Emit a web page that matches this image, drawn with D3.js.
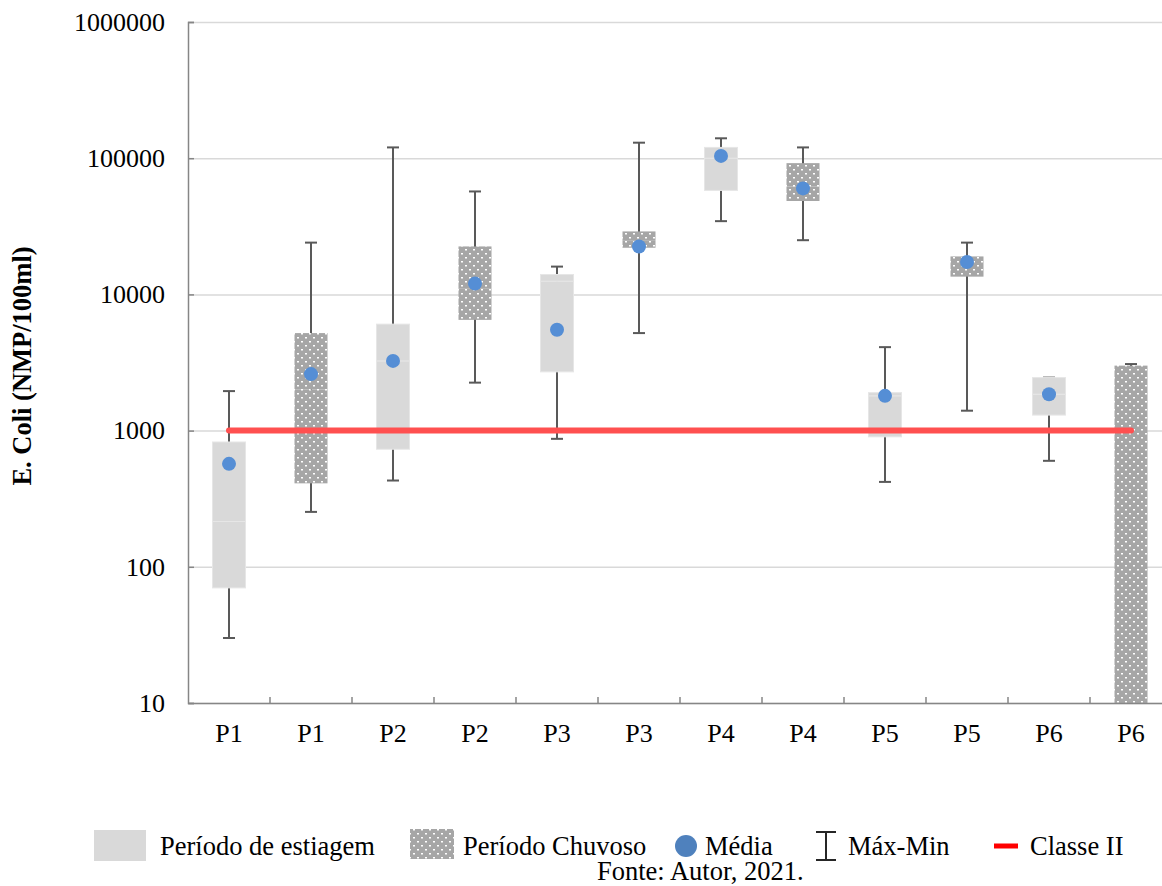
<!DOCTYPE html>
<html>
<head>
<meta charset="utf-8">
<script src="https://cdn.jsdelivr.net/npm/d3@7"></script>
<style>
  html, body { margin: 0; padding: 0; background: #fff; }
  svg { display: block; font-family: "Liberation Serif", "Times New Roman", serif; }
</style>
</head>
<body>
<svg id="chart" width="1162" height="886"></svg>
<script>
// Sampling points and season of each box
const categories = ["P1", "P1", "P2", "P2", "P3", "P3", "P4", "P4", "P5", "P5", "P6", "P6"];
const periods = ["estiagem", "chuvoso", "estiagem", "chuvoso", "estiagem", "chuvoso",
                 "estiagem", "chuvoso", "estiagem", "chuvoso", "estiagem", "chuvoso"];

// E. coli statistics (NMP/100ml) per box
const minValues    = [30,   253,   430,    2250,  870,   5200,   34500,  25000,  420,  1400,  600,  1];
const q1Values     = [70,   410,   730,    6500,  2700,  22000,  58000,  48500,  900,  13500, 1300, 1];
const medianValues = [215,  2000,  3250,   11000, 12500, 25000,  100000, 62000,  1800, 17000, 1850, 1];
const q3Values     = [825,  5200,  6050,   22500, 14000, 29000,  120000, 92000,  1900, 19000, 2450, 3000];
const maxValues    = [1950, 24000, 120000, 57000, 16000, 130000, 140000, 120000, 4100, 24000, 2450, 3080];
const meanValues   = [570,  2600,  3250,   12000, 5500,  22500,  104000, 60000,  1800, 17300, 1850, null];

// Reference limit (CONAMA Classe II)
const classeLimit = 1000;

const yTickValues = [10, 100, 1000, 10000, 100000, 1000000];

const legendLabels = ["Período de estiagem", "Período Chuvoso", "Média", "Máx-Min", "Classe II"];
const sourceText = "Fonte: Autor, 2021.";
const yTitle = "E. Coli (NMP/100ml)";

(function draw() {
  const svg = d3.select("#chart");
  const plotLeft = 188, plotTop = 22, plotBottom = 703;
  const step = 82;
  const plotRight = plotLeft + step * categories.length;
  const boxWidth = 33;
  const tickFont = 26;
  const textFont = 26.5;

  const x = d3.scaleBand().domain(d3.range(categories.length)).range([plotLeft, plotRight]).padding(0);
  const y = d3.scaleLog().domain([10, 1000000]).range([plotBottom, plotTop]);
  const cx = i => x(i) + x.bandwidth() / 2;

  const lightFill = "#d9d9d9";
  const darkFill = "#a6a6a6";
  const meanColor = "#558ed5";
  const whiskerColor = "#595959";

  const defs = svg.append("defs");
  const pat = defs.append("pattern")
    .attr("id", "dots")
    .attr("patternUnits", "userSpaceOnUse")
    .attr("width", 8).attr("height", 8);
  pat.append("rect").attr("width", 8).attr("height", 8).attr("fill", darkFill);
  pat.append("rect").attr("x", 1).attr("y", 1).attr("width", 2).attr("height", 1.5).attr("fill", "#fff");
  pat.append("rect").attr("x", 5).attr("y", 5).attr("width", 2).attr("height", 1.5).attr("fill", "#fff");

  defs.append("clipPath").attr("id", "plotClip")
    .append("rect").attr("x", plotLeft).attr("y", plotTop - 2)
    .attr("width", plotRight - plotLeft).attr("height", plotBottom - plotTop + 2);

  // gridlines
  svg.append("g")
    .attr("transform", `translate(${plotLeft},0)`)
    .call(d3.axisLeft(y).tickValues(yTickValues).tickSize(-(plotRight - plotLeft)).tickFormat(""))
    .call(g => g.select(".domain").remove())
    .call(g => g.selectAll("line").attr("stroke", "#d9d9d9").attr("stroke-width", 1.5));

  const plot = svg.append("g").attr("clip-path", "url(#plotClip)");

  const data = categories.map((c, i) => ({
    i, c, period: periods[i],
    min: minValues[i], q1: q1Values[i], med: medianValues[i], q3: q3Values[i],
    max: maxValues[i], mean: meanValues[i]
  }));

  // whiskers (behind boxes)
  const wh = plot.append("g").attr("stroke", whiskerColor).attr("stroke-width", 2);
  data.forEach(d => {
    wh.append("line").attr("x1", cx(d.i)).attr("x2", cx(d.i)).attr("y1", y(d.max)).attr("y2", y(d.min));
    wh.append("line").attr("x1", cx(d.i) - 6).attr("x2", cx(d.i) + 6).attr("y1", y(d.max)).attr("y2", y(d.max));
    if (d.min >= 10) {
      wh.append("line").attr("x1", cx(d.i) - 6).attr("x2", cx(d.i) + 6).attr("y1", y(d.min)).attr("y2", y(d.min));
    }
  });

  // boxes: lower part q1-median, upper part median-q3
  const boxes = plot.append("g");
  data.forEach(d => {
    const light = d.period === "estiagem";
    const fill = light ? lightFill : "url(#dots)";
    const stroke = light ? "#e6e6e6" : "none";
    const bx = cx(d.i) - boxWidth / 2;
    boxes.append("rect")
      .attr("x", bx).attr("width", boxWidth)
      .attr("y", y(d.med)).attr("height", y(d.q1) - y(d.med))
      .attr("fill", fill).attr("stroke", stroke).attr("stroke-width", 1);
    boxes.append("rect")
      .attr("x", bx).attr("width", boxWidth)
      .attr("y", y(d.q3)).attr("height", y(d.med) - y(d.q3))
      .attr("fill", fill).attr("stroke", stroke).attr("stroke-width", 1);
  });

  // Classe II limit line
  svg.append("line")
    .attr("x1", cx(0)).attr("x2", cx(categories.length - 1))
    .attr("y1", y(classeLimit)).attr("y2", y(classeLimit))
    .attr("stroke", "#ff5050").attr("stroke-width", 6).attr("stroke-linecap", "round");

  // means
  svg.append("g").selectAll("circle")
    .data(data.filter(d => d.mean != null))
    .join("circle")
    .attr("cx", d => cx(d.i)).attr("cy", d => y(d.mean)).attr("r", 7)
    .attr("fill", meanColor);

  // y axis
  svg.append("g")
    .attr("transform", `translate(${plotLeft},0)`)
    .call(d3.axisLeft(y).tickValues(yTickValues).tickSize(-6).tickPadding(23).tickFormat(d3.format("d")))
    .call(g => g.select(".domain").attr("stroke", "#868686").attr("stroke-width", 1.5))
    .call(g => g.selectAll(".tick line").attr("stroke", "#868686").attr("stroke-width", 1.5))
    .call(g => g.selectAll("text").attr("font-size", tickFont).attr("fill", "#000")
      .attr("font-family", "Liberation Serif"));

  // x axis
  svg.append("g")
    .attr("transform", `translate(0,${plotBottom})`)
    .call(d3.axisBottom(x).tickSize(0).tickPadding(21).tickFormat(i => categories[i]))
    .call(g => g.select(".domain").attr("stroke", "#868686").attr("stroke-width", 1.5))
    .call(g => g.selectAll("text").attr("font-size", tickFont).attr("fill", "#000")
      .attr("font-family", "Liberation Serif"));

  // category boundary ticks
  svg.append("g").selectAll("line")
    .data(d3.range(1, categories.length))
    .join("line")
    .attr("x1", i => x(i)).attr("x2", i => x(i))
    .attr("y1", plotBottom).attr("y2", plotBottom - 6)
    .attr("stroke", "#868686").attr("stroke-width", 1.5);

  // y title
  svg.append("text")
    .attr("transform", `translate(31,366) rotate(-90)`)
    .attr("text-anchor", "middle")
    .attr("font-size", textFont).attr("font-weight", "bold")
    .text(yTitle);

  // legend
  const lg = svg.append("g").attr("font-size", textFont);
  const ly = 846;
  lg.append("rect").attr("x", 94).attr("y", 830).attr("width", 52).attr("height", 31).attr("fill", lightFill);
  lg.append("text").attr("x", 160).attr("y", ly + 9).text(legendLabels[0]);
  lg.append("rect").attr("x", 410).attr("y", 829).attr("width", 44).attr("height", 30).attr("fill", "url(#dots)");
  lg.append("text").attr("x", 463).attr("y", ly + 9).text(legendLabels[1]);
  lg.append("circle").attr("cx", 686).attr("cy", ly).attr("r", 11).attr("fill", "#4f81bd");
  lg.append("text").attr("x", 705).attr("y", ly + 9).text(legendLabels[2]);
  const mm = lg.append("g").attr("stroke", "#262626").attr("stroke-width", 2);
  mm.append("line").attr("x1", 826).attr("x2", 826).attr("y1", 832).attr("y2", 860);
  mm.append("line").attr("x1", 816).attr("x2", 836).attr("y1", 832).attr("y2", 832);
  mm.append("line").attr("x1", 816).attr("x2", 836).attr("y1", 860).attr("y2", 860);
  lg.append("text").attr("x", 848).attr("y", ly + 9).text(legendLabels[3]);
  lg.append("line").attr("x1", 994).attr("x2", 1018).attr("y1", ly).attr("y2", ly)
    .attr("stroke", "#ff0000").attr("stroke-width", 5);
  lg.append("text").attr("x", 1030).attr("y", ly + 9).text(legendLabels[4]);

  svg.append("text").attr("x", 597).attr("y", 880).attr("font-size", textFont).text(sourceText);
})();
</script>
</body>
</html>
